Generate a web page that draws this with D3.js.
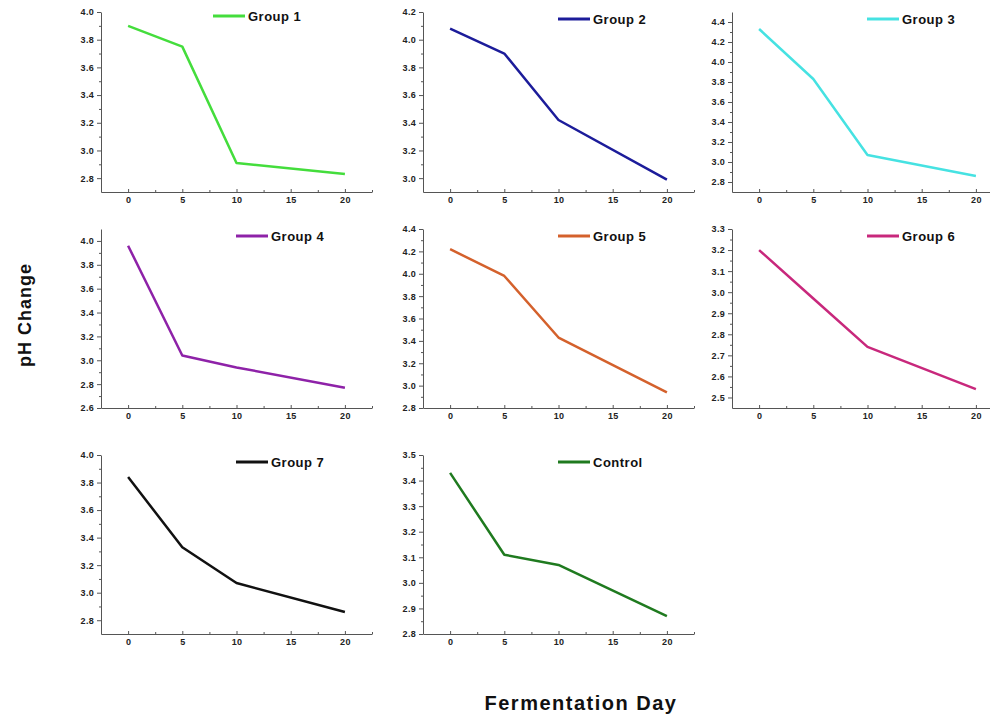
<!DOCTYPE html>
<html>
<head>
<meta charset="utf-8">
<script src="https://cdn.jsdelivr.net/npm/d3@7"></script>
<style>
  body { margin: 0; background: #fff; }
  svg { display: block; font-family: "Liberation Sans", Arial, sans-serif; }
  .axis path, .axis line { stroke: #555; }
  .axis text { font-size: 9px; font-weight: bold; fill: #222; letter-spacing: 0.3px; }
</style>
</head>
<body>
<div id="chart"></div>
<script>
// Fermentation days and pH readings per group
const days = [0, 5, 10, 20];
const groupNames = ['Group 1', 'Group 2', 'Group 3', 'Group 4', 'Group 5', 'Group 6', 'Group 7', 'Control'];
const group1 = [3.90, 3.75, 2.91, 2.83];
const group2 = [4.08, 3.90, 3.42, 2.99];
const group3 = [4.33, 3.83, 3.07, 2.86];
const group4 = [3.96, 3.04, 2.94, 2.77];
const group5 = [4.22, 3.98, 3.43, 2.94];
const group6 = [3.20, 2.97, 2.74, 2.54];
const group7 = [3.84, 3.33, 3.07, 2.86];
const control = [3.43, 3.11, 3.07, 2.87];

// y axis extent and tick labels per panel
const yDomains = [[2.7, 4.0], [2.9, 4.2], [2.7, 4.5], [2.6, 4.1], [2.8, 4.4], [2.45, 3.3], [2.7, 4.0], [2.8, 3.5]];
const yTicks = [
  [2.8, 3.0, 3.2, 3.4, 3.6, 3.8, 4.0],
  [3.0, 3.2, 3.4, 3.6, 3.8, 4.0, 4.2],
  [2.8, 3.0, 3.2, 3.4, 3.6, 3.8, 4.0, 4.2, 4.4],
  [2.6, 2.8, 3.0, 3.2, 3.4, 3.6, 3.8, 4.0],
  [2.8, 3.0, 3.2, 3.4, 3.6, 3.8, 4.0, 4.2, 4.4],
  [2.5, 2.6, 2.7, 2.8, 2.9, 3.0, 3.1, 3.2, 3.3],
  [2.8, 3.0, 3.2, 3.4, 3.6, 3.8, 4.0],
  [2.8, 2.9, 3.0, 3.1, 3.2, 3.3, 3.4, 3.5]
];
const xTicks = [0, 5, 10, 15, 20];
const xMinor = [2.5, 7.5, 12.5, 17.5, 22.5];

const series = [group1, group2, group3, group4, group5, group6, group7, control];
const colors = ['#44dd3c', '#1c1c9a', '#46e2e2', '#8e22a8', '#d4612c', '#c8287c', '#111111', '#1f7a1f'];

const width = 990, height = 718;
const colLeft = [101, 423, 732];
const rowTop = [12, 229, 455], rowBottom = [192, 408, 634];
const panelW = 271;

const svg = d3.select('#chart')
              .append('svg')
              .attr('width', width)
              .attr('height', height);

series.forEach((vals, i) => {
    const col = i % 3, row = Math.floor(i / 3);
    const left = colLeft[col], top = rowTop[row], bottom = rowBottom[row];

    let scaleX = d3.scaleLinear().domain([-2.5, 22.5]).range([left, left + panelW]);
    let scaleY = d3.scaleLinear().domain(yDomains[i]).range([bottom, top]);

    // y minor ticks halfway between major ones
    let step = yTicks[i][1] - yTicks[i][0];
    let yMinor = yTicks[i].map(t => t + step / 2).filter(t => t < yDomains[i][1]);

    let g = svg.append('g');

    g.append('g')
        .attr('class', 'y axis')
        .attr('transform', 'translate(' + left + ',0)')
        .call(d3.axisLeft(scaleY).tickValues(yTicks[i]).tickFormat(d3.format('.1f')).tickSizeInner(4).tickSizeOuter(0).tickPadding(3));

    g.append('g')
        .attr('class', 'y axis')
        .attr('transform', 'translate(' + left + ',0)')
        .call(d3.axisLeft(scaleY).tickValues(yMinor).tickFormat('').tickSizeInner(2).tickSizeOuter(0))
        .select('.domain').remove();

    g.append('g')
        .attr('class', 'x axis')
        .attr('transform', 'translate(0,' + bottom + ')')
        .call(d3.axisBottom(scaleX).tickValues(xTicks).tickFormat(d3.format('d')).tickSizeInner(-3).tickSizeOuter(0).tickPadding(5));

    g.append('g')
        .attr('class', 'x axis')
        .attr('transform', 'translate(0,' + bottom + ')')
        .call(d3.axisBottom(scaleX).tickValues(xMinor).tickFormat('').tickSizeInner(-2).tickSizeOuter(0))
        .select('.domain').remove();

    let line = d3.line()
                 .x((d, j) => scaleX(days[j]))
                 .y(d => scaleY(d));

    g.append('path')
        .datum(vals)
        .attr('d', line)
        .style('fill', 'none')
        .style('stroke', colors[i])
        .style('stroke-width', '2.5px')
        .style('stroke-linejoin', 'round');

    // legend
    let lx = left + (i === 0 ? 112 : 135);
    let ly = top + (i === 0 ? 4 : 7);
    g.append('line')
        .attr('x1', lx).attr('x2', lx + 32)
        .attr('y1', ly).attr('y2', ly)
        .style('stroke', colors[i])
        .style('stroke-width', '3px');
    g.append('text')
        .attr('x', lx + 35)
        .attr('y', ly)
        .attr('dy', '0.36em')
        .style('font-size', '13px')
        .style('font-weight', 'bold')
        .style('letter-spacing', '0.5px')
        .style('fill', '#111')
        .text(groupNames[i]);
});

svg.append('text')
    .attr('transform', 'translate(31,315) rotate(-90)')
    .style('text-anchor', 'middle')
    .style('font-size', '18px')
    .style('font-weight', 'bold')
    .style('letter-spacing', '1px')
    .style('fill', '#111')
    .text('pH Change');

svg.append('text')
    .attr('x', 581)
    .attr('y', 710)
    .style('text-anchor', 'middle')
    .style('font-size', '20px')
    .style('font-weight', 'bold')
    .style('letter-spacing', '1.5px')
    .style('fill', '#111')
    .text('Fermentation Day');
</script>
</body>
</html>
